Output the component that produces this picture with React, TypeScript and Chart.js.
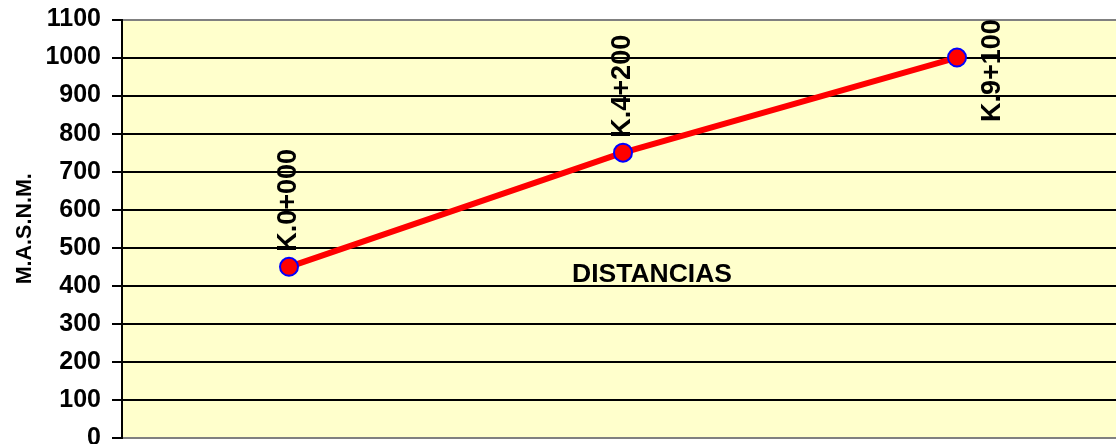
import React, { useEffect, useRef } from "react";
import { Chart, registerables } from "chart.js";

Chart.register(...registerables);

const categories: string[] = ["K.0+000", "K.4+200", "K.9+100"];
const elevations: number[] = [450, 750, 1000];
const yMin = 0;
const yMax = 1100;
const yStep = 100;
const yTitle = "M.A.S.N.M.";
const xTitle = "DISTANCIAS";
const labelPlacement: string[] = ["top", "top", "right"];

const FONT = "'Liberation Sans', Arial, sans-serif";

const bgPlugin = {
  id: "plotBg",
  beforeDraw(chart: any) {
    const { ctx, chartArea } = chart;
    ctx.save();
    ctx.fillStyle = "#FFFFCC";
    ctx.fillRect(chartArea.left, chartArea.top, chartArea.right - chartArea.left, chartArea.bottom - chartArea.top);
    ctx.restore();
  },
};

const labelPlugin = {
  id: "pointLabels",
  afterDatasetsDraw(chart: any) {
    const { ctx } = chart;
    const meta = chart.getDatasetMeta(0);
    ctx.save();
    ctx.fillStyle = "#000";
    ctx.font = `bold 27px ${FONT}`;
    meta.data.forEach((pt: any, i: number) => {
      const text = categories[i];
      ctx.save();
      if (labelPlacement[i] === "right") {
        ctx.translate(pt.x + 36, pt.y + 13);
        ctx.rotate(-Math.PI / 2);
        ctx.textAlign = "center";
        ctx.textBaseline = "middle";
      } else {
        ctx.translate(pt.x, pt.y - 15);
        ctx.rotate(-Math.PI / 2);
        ctx.textAlign = "left";
        ctx.textBaseline = "middle";
      }
      ctx.fillText(text, 0, 0);
      ctx.restore();
    });
    const xs = chart.scales.x;
    const ys = chart.scales.y;
    ctx.font = `bold 26.5px ${FONT}`;
    ctx.textAlign = "center";
    ctx.textBaseline = "middle";
    ctx.fillText(xTitle, xs.getPixelForValue(1) + 29, ys.getPixelForValue(428));
    ctx.restore();
  },
};

export default function App() {
  const ref = useRef<HTMLCanvasElement | null>(null);
  useEffect(() => {
    if (!ref.current) return;
    const chart = new Chart(ref.current, {
      type: "line",
      data: {
        labels: categories,
        datasets: [
          {
            data: elevations,
            borderColor: "#FF0000",
            borderWidth: 6,
            backgroundColor: "#FF0000",
            pointBackgroundColor: "#FF0000",
            pointBorderColor: "#0000FF",
            pointBorderWidth: 2,
            pointRadius: 9,
            tension: 0,
            clip: false as any,
          },
        ],
      },
      options: {
        animation: false,
        responsive: true,
        maintainAspectRatio: false,
        devicePixelRatio: 1,
        layout: { autoPadding: false, padding: { top: 19.5, bottom: 6, left: 0, right: 0 } },
        plugins: { legend: { display: false }, tooltip: { enabled: false } },
        scales: {
          x: {
            type: "category",
            display: false,
            offset: true,
          },
          y: {
            min: yMin,
            max: yMax,
            ticks: {
              stepSize: yStep,
              color: "#000",
              padding: 11,
              font: { family: FONT, size: 25, weight: "bold" },
              callback: (v: any) => String(v),
            },
            grid: {
              color: (c: any) => (c.tick && (c.tick.value === yMin || c.tick.value === yMax) ? "#808080" : "#000"),
              lineWidth: 2,
              tickLength: 10,
              tickColor: "#000",
              tickWidth: 2,
            },
            border: { display: true, color: "#000", width: 2 },
            title: {
              display: true,
              text: yTitle,
              color: "#000",
              font: { family: FONT, size: 21.5, weight: "bold" },
              padding: { top: 12, bottom: 0 },
            },
            afterFit: (scale: any) => {
              scale.width = 122;
              scale.paddingTop = 0;
              scale.paddingBottom = 0;
            },
          },
        },
      },
      plugins: [bgPlugin, labelPlugin],
    });
    return () => chart.destroy();
  }, []);
  return (
    <div style={{ position: "absolute", left: 0, top: 0, width: 1116, height: 444, overflow: "hidden", background: "#fff" }}>
      <div style={{ position: "relative", width: 1124, height: 444 }}>
        <canvas ref={ref} />
      </div>
    </div>
  );
}
